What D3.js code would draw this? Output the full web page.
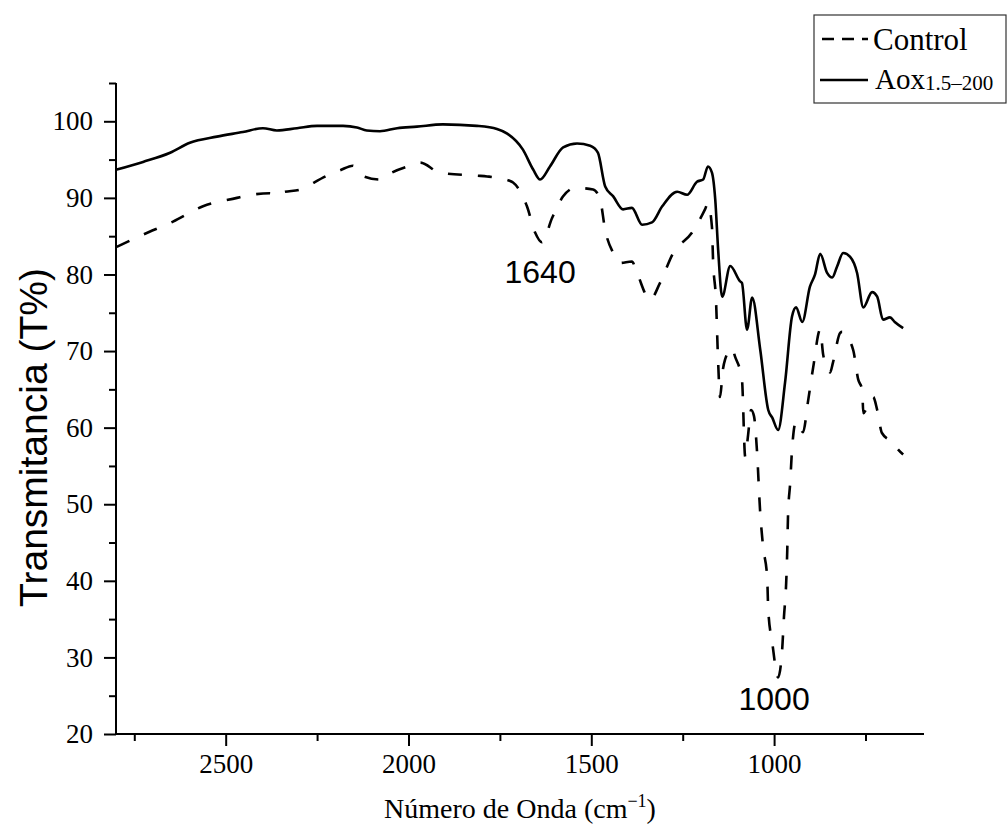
<!DOCTYPE html>
<html>
<head>
<meta charset="utf-8">
<script src="https://cdn.jsdelivr.net/npm/d3@7"></script>
<style>
  html, body { margin: 0; padding: 0; background: #fff; }
  svg { display: block; }
</style>
</head>
<body>
<svg id="chart" width="1008" height="834"></svg>
<script>
// ---- Data (wavenumber cm^-1, transmittance %) ----
const aoxWavenumber = [2798, 2726, 2652, 2598, 2524, 2453, 2398, 2360, 2305, 2250, 2179, 2141, 2114, 2078, 2031, 1977, 1906, 1813, 1758, 1730, 1687, 1659, 1640, 1613, 1577, 1539, 1503, 1482, 1462, 1440, 1413, 1389, 1361, 1334, 1306, 1265, 1238, 1211, 1194, 1181, 1170, 1161, 1153, 1142, 1120, 1093, 1088, 1074, 1060, 1038, 1016, 1005, 989, 970, 951, 940, 923, 902, 888, 874, 855, 841, 828, 811, 792, 773, 756, 732, 718, 702, 683, 670, 647];
const aoxTransmittance = [93.7, 94.7, 95.9, 97.2, 98.0, 98.6, 99.1, 98.8, 99.1, 99.4, 99.4, 99.2, 98.8, 98.7, 99.1, 99.3, 99.6, 99.4, 99.0, 98.4, 96.3, 93.7, 92.4, 94.1, 96.6, 97.1, 96.8, 95.9, 91.5, 90.2, 88.5, 88.7, 86.5, 86.8, 88.9, 90.8, 90.4, 92.1, 92.4, 94.1, 93.3, 89.8, 83.2, 77.1, 81.1, 79.1, 78.9, 72.8, 77.0, 70.2, 62.3, 61.3, 59.7, 65.9, 74.5, 75.7, 73.8, 78.4, 80.0, 82.7, 80.2, 79.6, 81.0, 82.8, 82.3, 80.2, 75.7, 77.7, 77.1, 74.1, 74.4, 73.8, 73.0];

const controlWavenumber = [2798, 2726, 2644, 2562, 2469, 2442, 2379, 2365, 2352, 2289, 2270, 2223, 2187, 2152, 2127, 2078, 2050, 1996, 1968, 1914, 1813, 1785, 1722, 1714, 1676, 1654, 1635, 1607, 1577, 1544, 1495, 1476, 1462, 1440, 1421, 1389, 1375, 1339, 1312, 1276, 1224, 1189, 1181, 1170, 1167, 1159, 1153, 1148, 1140, 1134, 1115, 1107, 1088, 1079, 1071, 1063, 1055, 1047, 1038, 1030, 1019, 1016, 1005, 989, 978, 973, 967, 964, 962, 956, 951, 940, 932, 921, 907, 893, 874, 866, 855, 847, 839, 819, 814, 784, 770, 759, 756, 746, 729, 718, 705, 674, 660, 647];
const controlTransmittance = [83.6, 85.2, 86.9, 88.9, 90.0, 90.3, 90.6, 90.3, 90.6, 91.2, 91.7, 92.9, 93.6, 94.2, 92.9, 92.4, 93.2, 94.2, 94.6, 93.3, 92.9, 92.8, 92.2, 92.0, 88.9, 85.5, 84.2, 87.4, 90.2, 91.3, 91.1, 89.8, 85.8, 82.8, 81.5, 81.7, 80.2, 76.7, 78.9, 82.8, 85.5, 88.5, 89.3, 86.2, 81.9, 76.7, 68.5, 64.0, 67.6, 68.9, 70.4, 69.3, 66.3, 56.2, 59.1, 62.3, 61.5, 57.1, 48.9, 44.4, 40.5, 36.2, 31.9, 27.4, 31.0, 35.3, 39.7, 44.0, 48.4, 52.8, 57.1, 60.8, 60.4, 59.4, 63.5, 67.9, 72.8, 69.6, 67.9, 67.2, 68.5, 72.4, 72.5, 70.2, 66.3, 64.9, 61.9, 62.6, 64.0, 62.3, 59.3, 58.0, 57.1, 56.5];

const xMajorTicks = [2500, 2000, 1500, 1000];
const xMinorTicks = [2750, 2250, 1750, 1250, 750];
const yMajorTicks = [20, 30, 40, 50, 60, 70, 80, 90, 100];
const yMinorTicks = [25, 35, 45, 55, 65, 75, 85, 95, 105];

const seriesNames = ["Control", "Aox"];
const annotations = [{label: "1640", wn: 1640, t: 78.9}, {label: "1000", wn: 1000, t: 23.1}];

// ---- Layout ----
const svg = d3.select("#chart");
const mLeft = 116, mRight = 924, mTop = 83, mBottom = 734;

const x = d3.scaleLinear().domain([2800, 590]).range([mLeft, mRight]);
const y = d3.scaleLinear().domain([20, 105]).range([mBottom, mTop]);

const serif = "'Liberation Serif', 'Times New Roman', serif";
const sans = "'Liberation Sans', Arial, sans-serif";

// Axes
const xAxis = svg.append("g").attr("transform", `translate(0,${mBottom})`)
  .call(d3.axisBottom(x).tickValues(xMajorTicks).tickSize(12).tickPadding(8).tickFormat(d3.format("d")));
const xMinor = svg.append("g").attr("transform", `translate(0,${mBottom})`)
  .call(d3.axisBottom(x).tickValues(xMinorTicks).tickSize(7).tickFormat(""));
const yAxis = svg.append("g").attr("transform", `translate(${mLeft},0)`)
  .call(d3.axisLeft(y).tickValues(yMajorTicks).tickSize(12).tickPadding(11));
const yMinor = svg.append("g").attr("transform", `translate(${mLeft},0)`)
  .call(d3.axisLeft(y).tickValues(yMinorTicks).tickSize(7).tickFormat(""));

[xAxis, xMinor, yAxis, yMinor].forEach(g => {
  g.select(".domain").attr("stroke", "#000").attr("stroke-width", 2);
  g.selectAll(".tick line").attr("stroke", "#000").attr("stroke-width", 2);
  g.selectAll(".tick text").attr("font-family", serif).attr("font-size", 27).attr("fill", "#000");
});
xAxis.select(".domain").attr("d", `M${mLeft},0H${mRight}`);
xMinor.select(".domain").remove();
yAxis.select(".domain").attr("d", `M0,${mBottom}V${mTop}`);
yMinor.select(".domain").remove();

// Axis titles
svg.append("text")
  .attr("transform", `translate(33,${(mTop + mBottom) / 2 + 29}) rotate(-90)`)
  .attr("text-anchor", "middle").attr("dy", "0.35em")
  .attr("font-family", sans).attr("font-size", 39).attr("fill", "#000")
  .text("Transmitancia (T%)");

const xt = svg.append("text")
  .attr("x", (mLeft + mRight) / 2).attr("y", 818)
  .attr("text-anchor", "middle")
  .attr("font-family", serif).attr("font-size", 28).attr("fill", "#000");
xt.append("tspan").text("Número de Onda (cm");
xt.append("tspan").attr("font-size", 18).attr("dy", -11).text("−1");
xt.append("tspan").attr("dy", 11).text(")");

// Lines
const line = d3.line()
  .x(d => x(d[0])).y(d => y(d[1]))
  .curve(d3.curveMonotoneX);

const controlData = controlWavenumber.map((w, i) => [w, controlTransmittance[i]]);
const aoxData = aoxWavenumber.map((w, i) => [w, aoxTransmittance[i]]);

svg.append("path").datum(controlData)
  .attr("d", line).attr("fill", "none").attr("stroke", "#000")
  .attr("stroke-width", 2.6).attr("stroke-dasharray", "14,16");
svg.append("path").datum(aoxData)
  .attr("d", line).attr("fill", "none").attr("stroke", "#000")
  .attr("stroke-width", 2.6).attr("stroke-linejoin", "round");

// Annotations
annotations.forEach(a => {
  svg.append("text").attr("x", x(a.wn)).attr("y", y(a.t))
    .attr("text-anchor", "middle")
    .attr("font-family", sans).attr("font-size", 32).attr("fill", "#000")
    .text(a.label);
});

// Legend
const lg = svg.append("g");
lg.append("rect").attr("x", 814).attr("y", 15).attr("width", 192).attr("height", 88)
  .attr("fill", "#fff").attr("stroke", "#333").attr("stroke-width", 1.2);
lg.append("line").attr("x1", 822).attr("x2", 868).attr("y1", 39).attr("y2", 39)
  .attr("stroke", "#000").attr("stroke-width", 2.6).attr("stroke-dasharray", "12,8");
lg.append("line").attr("x1", 820).attr("x2", 868).attr("y1", 80).attr("y2", 80)
  .attr("stroke", "#000").attr("stroke-width", 2.6);
lg.append("text").attr("x", 873).attr("y", 50)
  .attr("font-family", serif).attr("font-size", 31).attr("fill", "#000").text(seriesNames[0]);
const t2 = lg.append("text").attr("x", 875).attr("y", 89)
  .attr("font-family", serif).attr("font-size", 29).attr("fill", "#000");
t2.append("tspan").text(seriesNames[1]);
t2.append("tspan").attr("font-size", 21).attr("dy", 1).text("1.5–200");
</script>
</body>
</html>
